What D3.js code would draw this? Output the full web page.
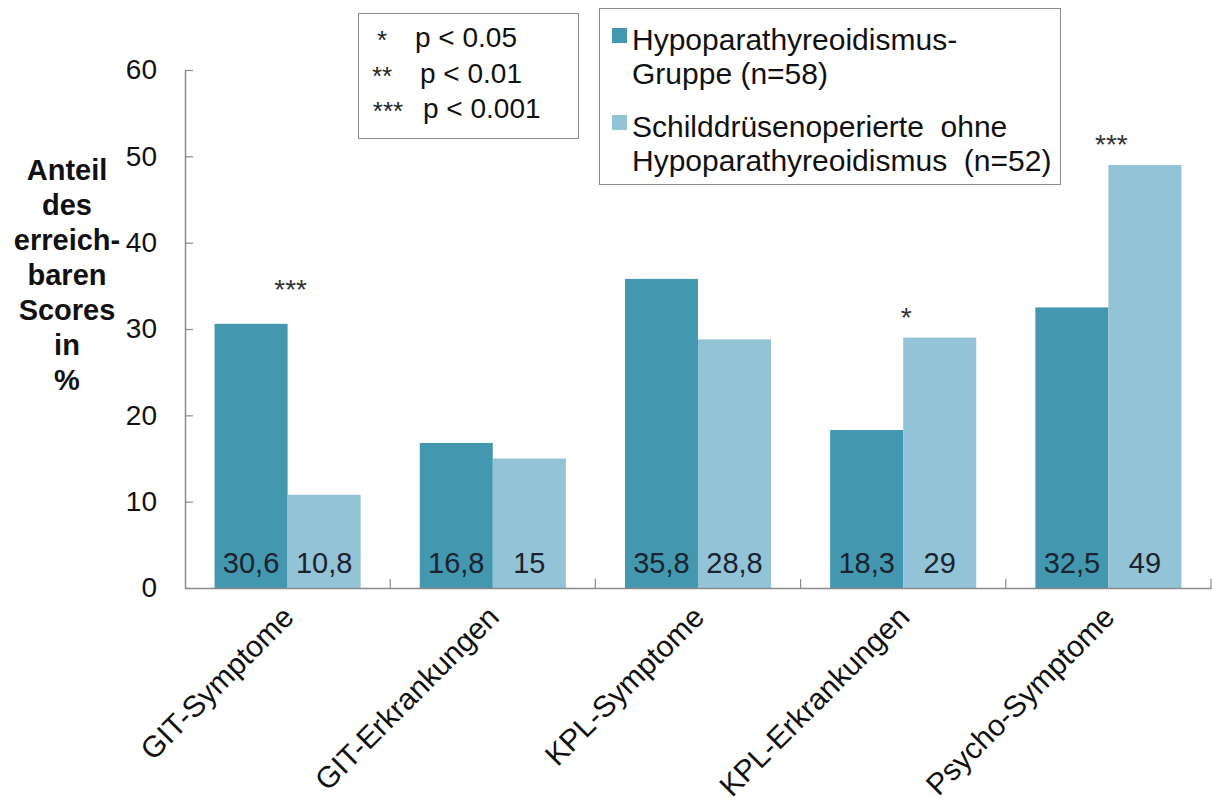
<!DOCTYPE html>
<html>
<head>
<meta charset="utf-8">
<script src="https://cdn.jsdelivr.net/npm/d3@7"></script>
<style>
  html, body { margin: 0; padding: 0; background: #fff; }
  svg { display: block; font-family: "Liberation Sans", Arial, sans-serif; }
</style>
</head>
<body>
<svg id="chart" width="1212" height="808"></svg>
<script>
// Data
const categories = ["GIT-Symptome", "GIT-Erkrankungen", "KPL-Symptome", "KPL-Erkrankungen", "Psycho-Symptome"];
const seriesNames = ["Hypoparathyreoidismus-Gruppe (n=58)", "Schilddrüsenoperierte ohne Hypoparathyreoidismus (n=52)"];
const hypoValues = [30.6, 16.8, 35.8, 18.3, 32.5];
const controlValues = [10.8, 15, 28.8, 29, 49];
const valueLabels = [["30,6", "10,8"], ["16,8", "15"], ["35,8", "28,8"], ["18,3", "29"], ["32,5", "49"]];
const significance = ["***", "", "", "*", "***"];
const yTicks = [0, 10, 20, 30, 40, 50, 60];
const yTitleLines = ["Anteil", "des", "erreich-", "baren", "Scores", "in", "%"];
const sigLegend = [["*", "p < 0.05"], ["**", "p < 0.01"], ["***", "p < 0.001"]];
const seriesLegendLines = [["Hypoparathyreoidismus-", "Gruppe (n=58)"], ["Schilddrüsenoperierte  ohne", "Hypoparathyreoidismus  (n=52)"]];

const colors = ["#4397ae", "#93c3d6"];
const axisColor = "#8a8a8a";
const textColor = "#111";

const svg = d3.select("#chart");

const plot = { left: 185, right: 1211, top: 70, bottom: 588 };

const y = d3.scaleLinear().domain([0, 60]).range([plot.bottom, plot.top]);
const x = d3.scaleBand().domain(categories).range([plot.left, plot.right])
  .paddingInner(0.288).paddingOuter(0.144);
const xSub = d3.scaleBand().domain([0, 1]).range([0, x.bandwidth()]);

const rows = categories.map((c, i) => ({ cat: c, vals: [hypoValues[i], controlValues[i]], labels: valueLabels[i], sig: significance[i] }));

// Bars
const groups = svg.append("g").selectAll("g").data(rows).join("g")
  .attr("transform", d => `translate(${x(d.cat)},0)`);

groups.selectAll("rect").data(d => d.vals.map((v, k) => ({ v, k })))
  .join("rect")
  .attr("x", d => xSub(d.k))
  .attr("width", xSub.bandwidth())
  .attr("y", d => y(d.v))
  .attr("height", d => y(0) - y(d.v))
  .attr("fill", d => colors[d.k]);

// Value labels at the foot of each bar
groups.selectAll("text.val").data(d => d.labels.map((t, k) => ({ t, k })))
  .join("text")
  .attr("class", "val")
  .attr("x", d => xSub(d.k) + xSub.bandwidth() / 2)
  .attr("y", y(0) - 15)
  .attr("text-anchor", "middle")
  .attr("font-size", 29)
  .attr("fill", "#1b2330")
  .text(d => d.t);

// Significance markers above each group
const starLift = [42, 0, 0, 28, 28];
groups.filter(d => d.sig).append("text")
  .attr("x", x.bandwidth() / 2 + 3)
  .attr("y", d => y(d3.max(d.vals)) - starLift[categories.indexOf(d.cat)] + 17)
  .attr("text-anchor", "middle")
  .attr("font-size", 28)
  .attr("fill", "#333")
  .text(d => d.sig);

// Y axis with inward ticks
const yAxis = d3.axisLeft(y).tickValues(yTicks).tickSizeInner(-8).tickSizeOuter(0).tickPadding(28);
const gy = svg.append("g").attr("transform", `translate(${plot.left},0)`).call(yAxis);
gy.select(".domain").attr("stroke", axisColor).attr("stroke-width", 1.5);
gy.selectAll(".tick line").attr("stroke", axisColor).attr("stroke-width", 1.2);
gy.selectAll(".tick text").attr("font-size", 28).attr("fill", textColor)
  .attr("font-family", "Liberation Sans, Arial, sans-serif");

// X axis baseline with category separators pointing inward
const gx = svg.append("g").attr("transform", `translate(0,${plot.bottom})`)
  .call(d3.axisBottom(x).tickSize(0).tickFormat(""));
gx.select(".domain").attr("stroke", axisColor).attr("stroke-width", 1.5);
const step = x.step();
const boundaries = categories.map((c, i) => plot.left + (i + 1) * step);
gx.selectAll("line.sep").data(boundaries).join("line")
  .attr("class", "sep")
  .attr("x1", d => d).attr("x2", d => d)
  .attr("y1", 0).attr("y2", -9)
  .attr("stroke", axisColor).attr("stroke-width", 1.2);

// Rotated category labels
svg.append("g").selectAll("text").data(categories).join("text")
  .attr("transform", d => `translate(${x(d) + x.bandwidth() / 2 + 8},${plot.bottom + 31}) rotate(-45)`)
  .attr("text-anchor", "end")
  .attr("font-size", 30)
  .attr("fill", textColor)
  .text(d => d);

// Y axis title
svg.append("text")
  .attr("text-anchor", "middle")
  .attr("font-size", 29)
  .attr("font-weight", "bold")
  .attr("fill", textColor)
  .selectAll("tspan").data(yTitleLines).join("tspan")
  .attr("x", 67)
  .attr("y", (d, i) => 180 + i * 35)
  .text(d => d);

// Significance legend box
const sigBox = svg.append("g");
sigBox.append("rect").attr("x", 358.5).attr("y", 13.5).attr("width", 220).attr("height", 125)
  .attr("fill", "#fff").attr("stroke", "#8c8c8c").attr("stroke-width", 1);
const starX = [382, 382, 388];
const pX = [415, 420, 423];
sigLegend.forEach((r, i) => {
  sigBox.append("text").attr("x", starX[i]).attr("y", 49 + i * 35.5)
    .attr("text-anchor", "middle").attr("font-size", 26).attr("fill", "#222").text(r[0]);
  sigBox.append("text").attr("x", pX[i]).attr("y", 47 + i * 35.5)
    .attr("font-size", 28).attr("fill", textColor).text(r[1]);
});

// Series legend box
const legend = svg.append("g");
legend.append("rect").attr("x", 599.5).attr("y", 8.5).attr("width", 461).attr("height", 176)
  .attr("fill", "#fff").attr("stroke", "#8c8c8c").attr("stroke-width", 1);
const legendTop = [28, 115];
seriesNames.forEach((name, k) => {
  legend.append("rect").attr("x", 612).attr("y", legendTop[k]).attr("width", 15).attr("height", 15)
    .attr("fill", colors[k]);
  legend.append("text").attr("font-size", 30).attr("fill", textColor)
    .selectAll("tspan").data(seriesLegendLines[k]).join("tspan")
    .attr("x", 632)
    .attr("y", (d, i) => legendTop[k] + 22 + i * 34)
    .attr("xml:space", "preserve")
    .style("white-space", "pre")
    .text(d => d);
});
</script>
</body>
</html>
